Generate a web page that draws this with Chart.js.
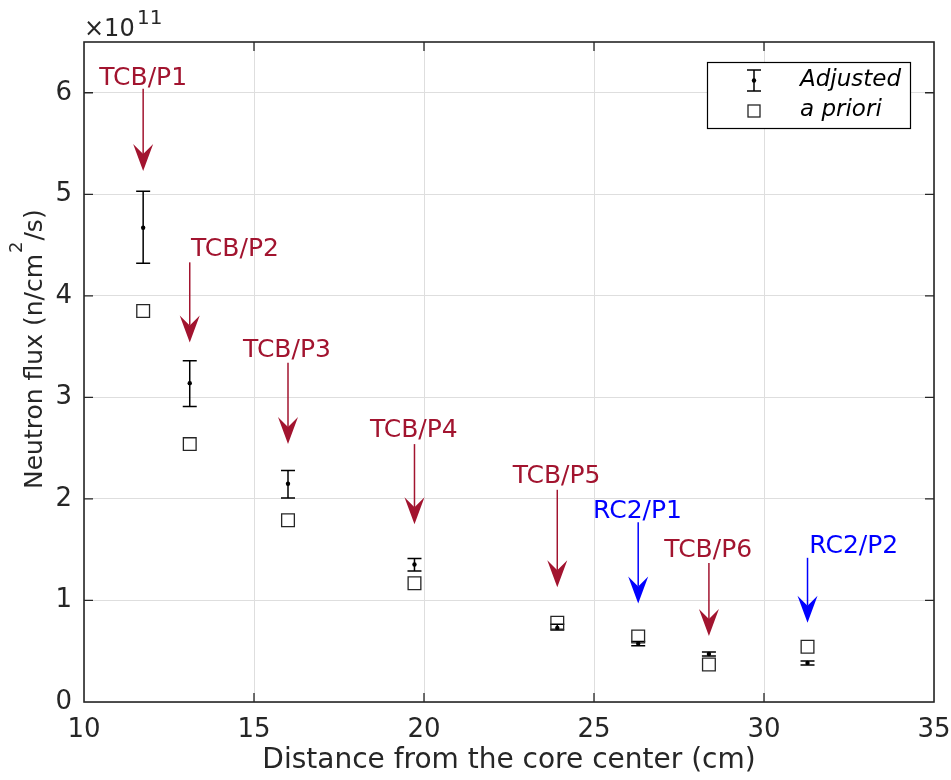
<!DOCTYPE html>
<html>
<head>
<meta charset="utf-8">
<script src="https://cdn.jsdelivr.net/npm/chart.js@4"></script>
<style>
  html, body { margin: 0; padding: 0; background: #fff; }
  #wrap { width: 951px; height: 780px; position: relative; }
</style>
</head>
<body>
<div id="wrap"><canvas id="flux"></canvas></div>
<script>
/* Measurement positions (cm) and fluxes (n/cm2/s) */
const xPos     = [11.74, 13.11, 16.0, 19.72, 23.92, 26.3, 28.38, 31.28];
const adjusted = [4.67e11, 3.14e11, 2.15e11, 1.354e11, 0.73e11, 0.575e11, 0.473e11, 0.385e11];
const errLow   = [4.32e11, 2.91e11, 2.01e11, 1.29e11, 0.71e11, 0.555e11, 0.454e11, 0.365e11];
const errHigh  = [5.03e11, 3.36e11, 2.28e11, 1.413e11, 0.766e11, 0.595e11, 0.493e11, 0.404e11];
const aPriori  = [3.85e11, 2.54e11, 1.79e11, 1.17e11, 0.78e11, 0.645e11, 0.37e11, 0.545e11];

const xTicks = [10, 15, 20, 25, 30, 35];
const yTicks = [0, 1, 2, 3, 4, 5, 6];

/* Position labels with arrows pointing at each measurement */
const tagText  = ['TCB/P1', 'TCB/P2', 'TCB/P3', 'TCB/P4', 'TCB/P5', 'RC2/P1', 'TCB/P6', 'RC2/P2'];
const tagKind  = ['TCB', 'TCB', 'TCB', 'TCB', 'TCB', 'RC2', 'TCB', 'RC2'];
const tagX     = [11.74, 14.44, 15.97, 19.70, 23.90, 26.28, 28.36, 32.64];
const tagY     = [6.14e11, 4.46e11, 3.46e11, 2.67e11, 2.22e11, 1.88e11, 1.49e11, 1.53e11];
const arrowTop = [6.04e11, 4.33e11, 3.34e11, 2.54e11, 2.09e11, 1.77e11, 1.37e11, 1.42e11];
const arrowTip = [5.23e11, 3.54e11, 2.54e11, 1.75e11, 1.13e11, 0.97e11, 0.65e11, 0.78e11];

const FONT = 'DejaVu Sans';
const INK = '#262626';
const kindColor = { TCB: '#A2142F', RC2: '#0000FF' };

function drawArrow(ctx, x, y0, y1, color) {
  const headLen = 27, headHalf = 10, notch = 10;
  ctx.save();
  ctx.strokeStyle = color;
  ctx.fillStyle = color;
  ctx.lineWidth = 1.5;
  ctx.beginPath();
  ctx.moveTo(x, y0);
  ctx.lineTo(x, y1 - headLen + notch);
  ctx.stroke();
  ctx.beginPath();
  ctx.moveTo(x, y1);
  ctx.lineTo(x - headHalf, y1 - headLen);
  ctx.lineTo(x, y1 - headLen + notch);
  ctx.lineTo(x + headHalf, y1 - headLen);
  ctx.closePath();
  ctx.fill();
  ctx.restore();
}

function drawErrorBar(ctx, x, yTop, yBot, half) {
  ctx.beginPath();
  ctx.moveTo(x, yTop); ctx.lineTo(x, yBot);
  ctx.moveTo(x - half, yTop); ctx.lineTo(x + half, yTop);
  ctx.moveTo(x - half, yBot); ctx.lineTo(x + half, yBot);
  ctx.stroke();
}

const decorations = {
  id: 'decorations',
  beforeDatasetsDraw(chart) {
    const { ctx, scales: { x, y } } = chart;
    ctx.save();
    ctx.strokeStyle = '#000';
    ctx.lineWidth = 1.5;
    xPos.forEach((v, i) => {
      drawErrorBar(ctx, x.getPixelForValue(v), y.getPixelForValue(errHigh[i]), y.getPixelForValue(errLow[i]), 7);
    });
    ctx.restore();
  },
  afterDraw(chart) {
    const { ctx, chartArea: a, scales: { x, y } } = chart;
    ctx.save();

    // axes box with inward ticks
    ctx.strokeStyle = INK;
    ctx.lineWidth = 1.6;
    ctx.strokeRect(a.left, a.top, a.right - a.left, a.bottom - a.top);
    ctx.lineWidth = 1.3;
    ctx.beginPath();
    xTicks.slice(1, -1).forEach(t => {
      const px = x.getPixelForValue(t);
      ctx.moveTo(px, a.bottom); ctx.lineTo(px, a.bottom - 9);
      ctx.moveTo(px, a.top); ctx.lineTo(px, a.top + 9);
    });
    yTicks.slice(1).forEach(t => {
      const py = y.getPixelForValue(t * 1e11);
      ctx.moveTo(a.left, py); ctx.lineTo(a.left + 9, py);
      ctx.moveTo(a.right, py); ctx.lineTo(a.right - 9, py);
    });
    ctx.stroke();

    // exponent above the y axis
    ctx.fillStyle = INK;
    ctx.textBaseline = 'alphabetic';
    ctx.textAlign = 'left';
    ctx.font = `24px ${FONT}`;
    ctx.fillText('\u00d710', 84, 36);
    ctx.font = `20px ${FONT}`;
    ctx.fillText('11', 137, 24);

    // y axis title with superscript
    ctx.save();
    ctx.translate(42, 489);
    ctx.rotate(-Math.PI / 2);
    ctx.font = `25px ${FONT}`;
    const head = 'Neutron flux (n/cm';
    ctx.fillText(head, 0, 0);
    let w = ctx.measureText(head).width;
    ctx.font = `18px ${FONT}`;
    ctx.fillText('2', w + 1, -20);
    w += ctx.measureText('2').width + 2;
    ctx.font = `25px ${FONT}`;
    ctx.fillText('/s)', w, 0);
    ctx.restore();

    // labelled arrows
    tagText.forEach((t, i) => {
      const color = kindColor[tagKind[i]];
      const ax = x.getPixelForValue(xPos[i]);
      drawArrow(ctx, ax, y.getPixelForValue(arrowTop[i]), y.getPixelForValue(arrowTip[i]), color);
      ctx.fillStyle = color;
      ctx.font = `25px ${FONT}`;
      ctx.textAlign = 'center';
      ctx.textBaseline = 'middle';
      ctx.fillText(t, x.getPixelForValue(tagX[i]), y.getPixelForValue(tagY[i]));
    });

    // legend
    const lx = 707.5, ly = 62.5, lw = 203, lh = 66;
    ctx.fillStyle = '#fff';
    ctx.fillRect(lx, ly, lw, lh);
    ctx.strokeStyle = '#000';
    ctx.lineWidth = 1.2;
    ctx.strokeRect(lx, ly, lw, lh);
    ctx.lineWidth = 1.5;
    drawErrorBar(ctx, 754, 70, 91, 7);
    ctx.fillStyle = '#000';
    ctx.beginPath(); ctx.arc(754, 80.5, 2.2, 0, Math.PI * 2); ctx.fill();
    ctx.lineWidth = 1.3;
    ctx.strokeStyle = INK;
    ctx.strokeRect(748, 105, 12, 12);
    ctx.fillStyle = '#000';
    ctx.font = `italic 23px ${FONT}`;
    ctx.textAlign = 'left';
    ctx.textBaseline = 'middle';
    ctx.fillText(chart.data.datasets[0].label, 800, 80);
    ctx.fillText(chart.data.datasets[1].label, 800, 110);

    ctx.restore();
  }
};

new Chart(document.getElementById('flux'), {
  type: 'scatter',
  data: {
    datasets: [
      {
        label: 'Adjusted',
        data: xPos.map((v, i) => ({ x: v, y: adjusted[i] })),
        pointRadius: 2.2,
        pointHoverRadius: 2.2,
        backgroundColor: '#000',
        borderColor: '#000',
        borderWidth: 0
      },
      {
        label: 'a priori',
        data: xPos.map((v, i) => ({ x: v, y: aPriori[i] })),
        pointStyle: 'rect',
        pointRadius: 9,
        pointHoverRadius: 9,
        backgroundColor: 'rgba(0,0,0,0)',
        borderColor: INK,
        borderWidth: 1.3
      }
    ]
  },
  options: {
    responsive: true,
    maintainAspectRatio: false,
    animation: false,
    events: [],
    layout: { padding: { top: 42, right: 17, left: 0, bottom: 0 } },
    plugins: { legend: { display: false }, tooltip: { enabled: false } },
    scales: {
      x: {
        type: 'linear',
        min: 10, max: 35,
        afterBuildTicks: s => { s.ticks = xTicks.map(v => ({ value: v })); },
        afterFit: s => { s.height = 78; s.paddingLeft = 0; s.paddingRight = 0; },
        grid: { color: '#dedede', lineWidth: 1, drawTicks: false },
        border: { display: false },
        ticks: { color: INK, font: { family: FONT, size: 26 }, padding: 13 },
        title: {
          display: true,
          text: 'Distance from the core center (cm)',
          color: INK,
          font: { family: FONT, size: 28 },
          padding: { top: 0, bottom: 2 }
        }
      },
      y: {
        type: 'linear',
        min: 0, max: 6.5e11,
        afterBuildTicks: s => { s.ticks = yTicks.map(v => ({ value: v * 1e11 })); },
        afterFit: s => { s.width = 84; s.paddingTop = 0; s.paddingBottom = 0; },
        grid: { color: '#dedede', lineWidth: 1, drawTicks: false },
        border: { display: false },
        ticks: { color: INK, font: { family: FONT, size: 26 }, padding: 12, callback: v => String(Math.round(v / 1e11)) },
        title: { display: false }
      }
    }
  },
  plugins: [decorations]
});
</script>
</body>
</html>
